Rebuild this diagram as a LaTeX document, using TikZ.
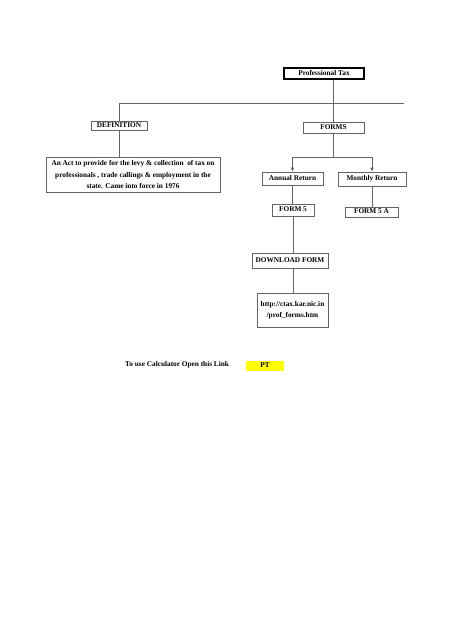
\documentclass[tikz,border=0pt]{standalone}
\usepackage{fontspec}
\setmainfont{Liberation Serif}
\usetikzlibrary{arrows.meta,calc}
\definecolor{linegray}{RGB}{100,100,100}
\definecolor{hiyellow}{RGB}{255,255,0}
\begin{document}
\begin{tikzpicture}[x=1pt,y=-1pt,
  every node/.style={font=\bfseries\fontsize{7.3}{11.5}\selectfont, inner sep=0pt, text height=5pt, text depth=1.5pt},
  multi/.style={align=center, text height=, text depth=},
  box/.style={draw=linegray, line width=0.6pt, fill=white},
  conn/.style={draw=linegray, line width=0.6pt},
  arr/.style={conn, -{Latex[length=4pt,width=3.5pt]}}
]
\useasboundingbox (0,0) rectangle (474,632);
% boxes
\node[draw=black, line width=1.3pt, minimum width=80pt, minimum height=11pt] (pt) at (324,73.5) {Professional Tax};
\node[box, minimum width=61pt, minimum height=11pt] (forms) at (333.5,127.5) {FORMS};
\node[box, minimum width=56pt, minimum height=9pt] (def) at (119,125.5) {DEFINITION};
\node[box, multi, minimum width=174pt, minimum height=35pt] (act) at (133,174.5) {An Act to provide for the levy \& collection\ \ of tax on\\professionals , trade callings \& employment in the\\state. Came into force in 1976};
\node[box, minimum width=61pt, minimum height=13pt] (annual) at (292.5,178.5) {Annual Return};
\node[box, minimum width=68pt, minimum height=14pt] (monthly) at (372,179) {Monthly Return};
\node[box, minimum width=42pt, minimum height=12pt] (form5) at (293,210) {FORM 5};
\node[box, minimum width=53pt, minimum height=10pt] (form5a) at (371.5,212) {FORM 5 A};
\node[box, minimum width=76pt, minimum height=15pt] (dl) at (290,260.5) {DOWNLOAD FORM};
\node[box, multi, minimum width=71pt, minimum height=34pt] (url) at (292.5,310) {http://ctax.kar.nic.in\\/prof\_forms.htm};
\node[anchor=west] (calc) at (125,365) {To use Calculator Open this Link};
\node[fill=hiyellow, minimum width=38pt, minimum height=10pt] (link) at (265,366) {PT};
% connectors
\coordinate (hl) at (119,103);
\coordinate (hr) at (404,103);
\coordinate (fj) at (333.5,157);
\draw[conn] (hl) -- (hr);
\draw[conn] (forms.north |- pt.south) -- (forms.north);
\draw[conn] (hl) -- (def.north);
\draw[conn] (def.south) -- (act.north -| def.south);
\draw[conn] (forms.south) -- (fj);
\draw[conn] (annual.north |- fj) -- (monthly.north |- fj);
\draw[arr] (annual.north |- fj) -- (annual.north);
\draw[arr] (monthly.north |- fj) -- (monthly.north);
\draw[conn] (annual.south) -- (form5.north -| annual.south);
\draw[conn] (monthly.south) -- (form5a.north -| monthly.south);
\draw[conn] (form5.south) -- (form5.south |- dl.north);
\draw[conn] (dl.south -| form5.south) -- (form5.south |- url.north);
\end{tikzpicture}
\end{document}
